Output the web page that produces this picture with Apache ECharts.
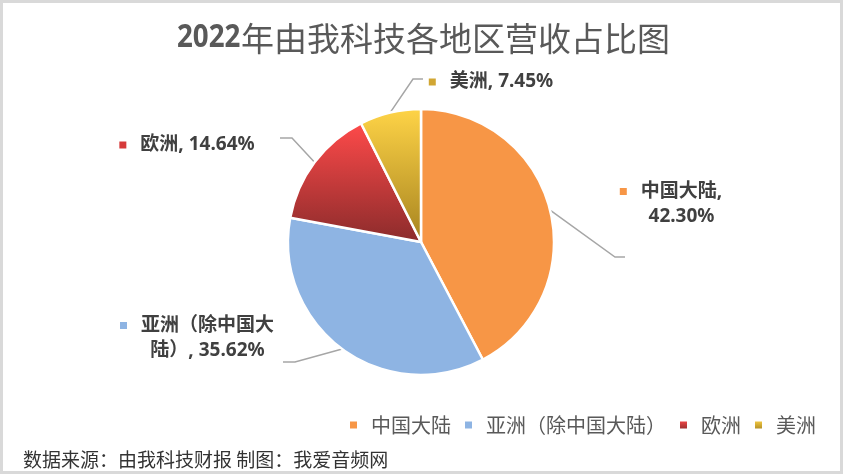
<!DOCTYPE html>
<html>
<head>
<meta charset="utf-8">
<title>2022年由我科技各地区营收占比图</title>
<script src="https://cdn.jsdelivr.net/npm/echarts@6/dist/echarts.min.js"></script>
<style>
  html, body { margin: 0; padding: 0; background: #fff; }
  #main { width: 843px; height: 474px; }
</style>
</head>
<body>
<div id="main"></div>
<script>
// 数据
var categories = ["中国大陆", "亚洲（除中国大陆）", "欧洲", "美洲"];
var shares = [42.3, 35.62, 14.64, 7.45];
// 标签在第几个字符后换行，0 为不换行
var labelBreaks = [5, 7, 0, 0];
var titleYear = "2022";
var titleRest = "年由我科技各地区营收占比图";
var sourceNote = "数据来源：由我科技财报 制图：我爱音频网";

// 标签位置（中心点）和引导线终点
var labelPos = [[671, 204], [197, 338], [187, 145], [491, 82]];
var guideEnds = [[625, 257], [283, 362], [280, 138], [423, 79]];

var CX = 421, CY = 242, R = 133;

var fills = [
  "#f79646",
  "#8eb4e3",
  {
    type: "linear", x: 0, y: 0, x2: 0, y2: 1,
    colorStops: [{ offset: 0, color: "#ff4a4a" }, { offset: 1, color: "#8a2b2b" }],
  },
  {
    type: "linear", x: 0, y: 0, x2: 0, y2: 1,
    colorStops: [{ offset: 0, color: "#ffd447" }, { offset: 1, color: "#a6831f" }],
  },
];
var markColors = ["#f79646", "#8eb4e3", "#d63a3a", "#d1a633"];

var chart = echarts.init(document.getElementById("main"));

var rich = {
  t: {
    fontSize: 19,
    fontWeight: "bold",
    color: "#404040",
    fontFamily: "'Noto Sans', 'Noto Sans CJK SC', sans-serif",
    lineHeight: 25,
  },
  gap: { width: 14, height: 7 },
  sp: { width: 21, height: 7 },
};
markColors.forEach(function (c, i) {
  rich["m" + i] = { width: 7, height: 7, backgroundColor: c };
});

function labelText(p) {
  var s = p.name + ", " + p.value.toFixed(2) + "%";
  var b = labelBreaks[p.dataIndex];
  var out = "{m" + p.dataIndex + "|}{gap|}";
  if (!b) return out + "{t|" + s + "}";
  return out + "{t|" + s.slice(0, b) + "}\n{sp|}{t|" + s.slice(b).trim() + "}";
}

chart.setOption({
  animation: false,
  legend: {
    data: categories,
    right: 22,
    top: 410,
    icon: "rect",
    itemWidth: 9,
    itemHeight: 9,
    itemGap: 12,
    textStyle: {
      fontSize: 20,
      color: "#595959",
      fontFamily: "'Noto Sans CJK SC', sans-serif",
      padding: [0, 0, 0, 8],
    },
  },
  graphic: [
    {
      type: "rect",
      shape: { x: 1.5, y: 1.5, width: 840, height: 471 },
      style: { fill: "none", stroke: "#d9d9d9", lineWidth: 3 },
      silent: true,
    },
    // 标题：数字压窄一点
    {
      type: "text",
      x: 177,
      y: 38,
      scaleX: 0.84,
      style: {
        text: titleYear,
        font: "bold 33px 'Noto Sans', sans-serif",
        fill: "#595959",
        verticalAlign: "middle",
      },
    },
    {
      type: "text",
      x: 241,
      y: 38,
      style: {
        text: titleRest,
        font: "normal 33px 'Noto Sans CJK SC', sans-serif",
        fill: "#595959",
        verticalAlign: "middle",
      },
    },
    {
      type: "text",
      left: 23,
      top: 450,
      style: {
        text: sourceNote,
        fontSize: 19,
        fill: "#333",
        fontFamily: "'Noto Sans CJK SC', sans-serif",
      },
    },
  ],
  series: [
    {
      type: "pie",
      center: [CX, CY],
      radius: R,
      startAngle: 90,
      clockwise: true,
      data: categories.map(function (name, i) {
        return { name: name, value: shares[i], itemStyle: { color: fills[i] } };
      }),
      itemStyle: { borderColor: "#fff", borderWidth: 2.5 },
      label: {
        show: true,
        position: "outside",
        formatter: labelText,
        rich: rich,
      },
      labelLine: {
        show: true,
        lineStyle: { color: "#a6a6a6", width: 1.5 },
      },
      labelLayout: function (params) {
        var i = params.dataIndex;
        var start = params.labelLinePoints ? params.labelLinePoints[0] : [CX, CY];
        var end = guideEnds[i];
        var bend = [end[0] + (end[0] < CX ? 12 : -10), end[1]];
        return {
          x: labelPos[i][0],
          y: labelPos[i][1],
          align: "center",
          verticalAlign: "middle",
          labelLinePoints: [start, bend, end],
        };
      },
      emphasis: { disabled: true },
    },
  ],
});
</script>
</body>
</html>
